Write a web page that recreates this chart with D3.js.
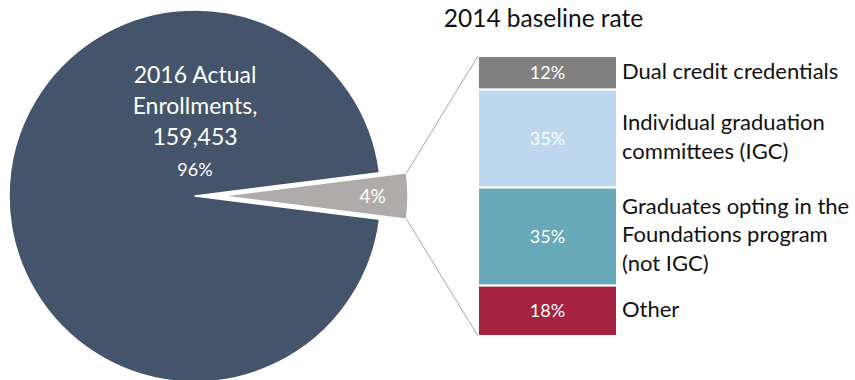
<!DOCTYPE html>
<html>
<head>
<meta charset="utf-8">
<script src="https://cdn.jsdelivr.net/npm/d3@7/dist/d3.min.js"></script>
<style>
  html, body { margin: 0; padding: 0; background: #fff; }
  svg { display: block; font-family: Lato, "Open Sans", sans-serif; }
</style>
</head>
<body>
<svg id="chart" width="855" height="380"></svg>
<script>
// Enrollment split (pie)
const pieLabels = ["2016 Actual\nEnrollments,\n159,453", ""];
const pieValues = [96, 4];
const pieColors = ["#44546a", "#afabab"];

// Breakdown of the 4% slice (stacked bar)
const barTitle = "2014 baseline rate";
const barCategories = [
  "Dual credit credentials",
  "Individual graduation\ncommittees (IGC)",
  "Graduates opting in the\nFoundations program\n(not IGC)",
  "Other"
];
const barValues = [12, 35, 35, 18];
const barColors = ["#808080", "#bdd7ee", "#69a8b9", "#a52241"];

const svg = d3.select("#chart");

// ---- Pie ----
const cx = 195, cy = 196, R = 186, explode = 27;
const smallShare = pieValues[1] / d3.sum(pieValues);
// centre the small slice on the 3 o'clock direction
const start = Math.PI / 2 + smallShare * Math.PI;
const pie = d3.pie().sort(null).startAngle(start).endAngle(start + 2 * Math.PI);
const arcs = pie(pieValues);
const arc = d3.arc().innerRadius(0).outerRadius(R);

const pieG = svg.append("g").attr("transform", `translate(${cx},${cy})`);
pieG.selectAll("path")
  .data(arcs)
  .join("path")
  .attr("d", arc)
  .attr("fill", (d, i) => pieColors[i])
  .attr("stroke", "#fff")
  .attr("stroke-width", 1.5)
  .attr("stroke-linejoin", "round")
  .attr("transform", (d, i) => {
    if (i !== 1) return null;
    const a = (d.startAngle + d.endAngle) / 2;
    return `translate(${explode * Math.sin(a)},${-explode * Math.cos(a)})`;
  });

// big slice label
const big = pieG.append("text")
  .attr("text-anchor", "middle")
  .attr("fill", "#fff")
  .attr("font-size", 23);
pieLabels[0].split("\n").forEach((line, k) => {
  big.append("tspan").attr("x", 0).attr("y", -113 + k * 31).text(line);
});
pieG.append("text")
  .attr("x", 0).attr("y", -20)
  .attr("text-anchor", "middle")
  .attr("fill", "#fff")
  .attr("font-size", 18)
  .text(pieValues[0] + "%");

// small slice label
const sa = (arcs[1].startAngle + arcs[1].endAngle) / 2;
const sr = R * 0.81 + explode;
pieG.append("text")
  .attr("x", sr * Math.sin(sa))
  .attr("y", -sr * Math.cos(sa))
  .attr("dy", "0.35em")
  .attr("text-anchor", "middle")
  .attr("fill", "#fff")
  .attr("font-size", 19)
  .text(pieValues[1] + "%");

// ---- Stacked bar ----
const barX = 478, barW = 139, barTop = 56, barBottom = 336;
const y = d3.scaleLinear().domain([0, d3.sum(barValues)]).range([barTop, barBottom]);
const cum = d3.cumsum(barValues);
const segs = barValues.map((v, i) => ({ v, i, y0: cum[i] - v, y1: cum[i] }));

const barG = svg.append("g");
barG.selectAll("rect")
  .data(segs)
  .join("rect")
  .attr("x", barX)
  .attr("width", barW)
  .attr("y", d => y(d.y0))
  .attr("height", d => y(d.y1) - y(d.y0))
  .attr("fill", d => barColors[d.i])
  .attr("stroke", "#fff")
  .attr("stroke-width", 2);

barG.selectAll("text.val")
  .data(segs)
  .join("text")
  .attr("class", "val")
  .attr("x", barX + barW / 2)
  .attr("y", d => (y(d.y0) + y(d.y1)) / 2)
  .attr("dy", "0.35em")
  .attr("text-anchor", "middle")
  .attr("fill", "#fff")
  .attr("font-size", 18)
  .text(d => d.v + "%");

// category labels beside the bar
const lineH = 28.5;
barG.selectAll("text.cat")
  .data(segs)
  .join("text")
  .attr("class", "cat")
  .attr("fill", "#111")
  .attr("font-size", 22)
  .each(function (d) {
    const lines = barCategories[d.i].split("\n");
    const mid = (y(d.y0) + y(d.y1)) / 2 - 2;
    const first = mid - (lines.length - 1) * lineH / 2;
    lines.forEach((line, k) => {
      d3.select(this).append("tspan")
        .attr("x", barX + barW + 5)
        .attr("y", first + k * lineH)
        .attr("dy", "0.35em")
        .text(line);
    });
  });

svg.append("text")
  .attr("x", barX + barW / 2 - 4)
  .attr("y", 18)
  .attr("dy", "0.35em")
  .attr("text-anchor", "middle")
  .attr("fill", "#111")
  .attr("font-size", 24.5)
  .text(barTitle);

// ---- Connector lines from the exploded slice to the bar ----
const sliceCorner = ang => [
  cx + explode * Math.sin(sa) + R * Math.sin(ang),
  cy - explode * Math.cos(sa) - R * Math.cos(ang)
];
const topCorner = sliceCorner(arcs[1].startAngle);
const botCorner = sliceCorner(arcs[1].endAngle);
const pts = [
  [topCorner[1] < botCorner[1] ? topCorner : botCorner, [barX, barTop]],
  [topCorner[1] < botCorner[1] ? botCorner : topCorner, [barX, barBottom]]
];
svg.selectAll("line.conn")
  .data(pts)
  .join("line")
  .attr("class", "conn")
  .attr("x1", d => d[0][0]).attr("y1", d => d[0][1])
  .attr("x2", d => d[1][0]).attr("y2", d => d[1][1])
  .attr("stroke", "#a6a6a6")
  .attr("stroke-width", 1);
</script>
</body>
</html>
